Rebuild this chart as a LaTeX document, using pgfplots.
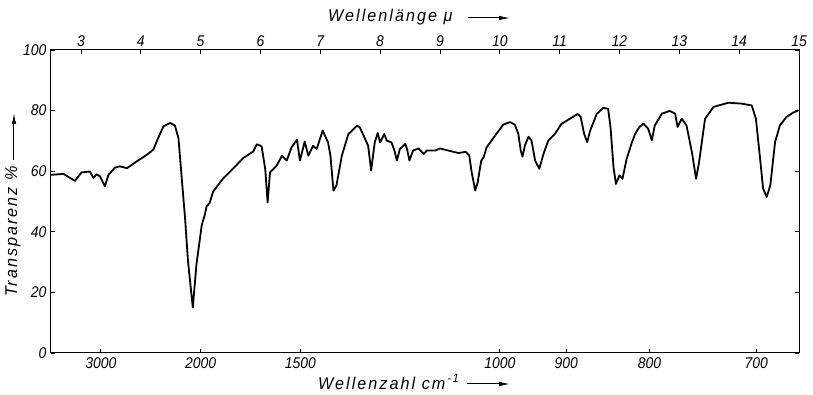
\documentclass[border=0pt]{standalone}
\usepackage{fontspec}
\setmainfont{Liberation Sans}[FakeStretch=0.9]
\newfontfamily\labelfont{Liberation Sans}[FakeStretch=0.95, LetterSpace=12]
\usepackage{pgfplots}
\pgfplotsset{compat=1.18}
\usetikzlibrary{arrows.meta}
\pgfplotstableread{
lam T
2.50 58.8
2.71 59.1
2.90 56.8
3.01 59.6
3.15 59.9
3.21 57.7
3.26 59.0
3.32 58.3
3.40 55.0
3.46 58.8
3.57 61.2
3.65 61.6
3.77 61.0
3.93 63.2
4.10 65.4
4.21 67.1
4.29 70.9
4.38 74.8
4.49 75.9
4.57 75.1
4.63 70.9
4.68 58.9
4.74 44.5
4.79 30.2
4.87 15.0
4.93 29.1
5.02 42.3
5.07 45.6
5.10 48.4
5.15 49.5
5.21 53.3
5.38 57.7
5.55 61.0
5.71 64.3
5.88 66.5
5.94 68.9
6.02 68.2
6.08 60.7
6.12 49.7
6.16 59.6
6.27 61.8
6.36 65.1
6.44 63.5
6.52 67.9
6.61 70.4
6.66 63.5
6.74 69.8
6.80 65.1
6.88 68.4
6.94 67.3
7.04 73.4
7.13 69.5
7.17 65.1
7.22 53.6
7.27 55.3
7.36 65.1
7.47 72.3
7.50 72.8
7.61 75.0
7.66 74.5
7.75 70.6
7.80 68.4
7.85 60.2
7.91 69.5
7.96 72.6
8.00 69.5
8.07 72.3
8.11 70.1
8.19 69.5
8.24 66.8
8.28 63.5
8.33 67.3
8.42 69.0
8.45 67.3
8.49 63.5
8.55 66.8
8.64 67.5
8.73 65.7
8.78 66.8
8.92 66.8
9.00 67.5
9.14 66.8
9.31 66.0
9.43 66.4
9.49 65.1
9.53 59.6
9.59 53.6
9.63 56.3
9.69 63.5
9.73 64.6
9.78 67.9
9.84 69.5
9.93 72.0
10.06 75.4
10.17 76.2
10.25 75.4
10.31 72.3
10.35 66.8
10.38 64.8
10.42 68.5
10.48 71.4
10.53 70.1
10.59 63.5
10.66 60.8
10.73 65.7
10.81 70.1
10.92 72.3
11.03 75.6
11.17 77.3
11.30 78.9
11.35 78.0
11.41 72.3
11.46 69.6
11.51 73.4
11.62 78.9
11.73 80.9
11.81 80.6
11.85 74.5
11.90 61.4
11.94 55.8
12.00 58.6
12.05 57.5
12.12 64.1
12.20 69.0
12.26 72.3
12.33 74.5
12.40 75.7
12.48 74.0
12.54 70.2
12.59 75.1
12.71 79.0
12.84 79.9
12.93 79.0
12.97 74.6
13.04 77.3
13.12 75.1
13.21 66.3
13.28 57.5
13.33 63.0
13.43 77.3
13.57 81.2
13.82 82.6
14.04 82.3
14.21 81.7
14.28 77.3
14.35 64.1
14.40 54.3
14.46 51.5
14.52 55.3
14.60 69.6
14.68 75.1
14.79 77.9
14.90 79.3
14.99 80.1
}\spectrum
\begin{document}
\begin{tikzpicture}
\pgfplotsset{
  common/.style={
    at={(0pt,0pt)}, anchor=south west,
    width=748pt, height=303pt, scale only axis,
    xmin=2.5, xmax=15, ymin=0, ymax=100,
    tick align=inside, major tick length=4pt,
    every tick/.style={black, line width=0.8pt},
    tick label style={font=\fontsize{15.5}{15.5}\selectfont\itshape},
  }
}
\begin{axis}[common,
    axis line style={line width=1pt},
    xtick={3.3333,5,6.6667,10,11.1111,12.5,14.2857},
    xticklabels={3000,2000,1500,1000,900,800,700},
    xtick pos=bottom,
    xticklabel style={yshift=-1pt},
    ytick={0,20,40,60,80,100},
    yticklabels={0,20,40,60,80,100},
    ytick pos=both, yticklabel pos=left,
    yticklabel style={xshift=-1pt},
  ]
  \addplot[black, line width=1.8pt, line join=round] table[x=lam, y=T] {\spectrum};
\end{axis}
\begin{axis}[common,
    axis x line*=top, axis y line=none,
    axis line style={line width=1pt},
    xtick={3,4,...,15},
    xticklabels={3,4,5,6,7,8,9,10,11,12,13,14,15},
    xticklabel pos=top,
    xticklabel style={yshift=0pt},
  ]
\end{axis}
\node[anchor=west, font=\fontsize{17}{17}\labelfont\itshape, inner sep=0pt] at (277pt,336pt) {Wellenlänge μ};
\draw[line width=1pt, -{Latex[length=11pt,width=4.5pt]}] (417pt,335pt) -- (459pt,335pt);
\node[anchor=west, font=\fontsize{17}{17}\labelfont\itshape, inner sep=0pt] at (267pt,-29pt) {Wellenzahl cm\textsuperscript{\,-1}};
\draw[line width=1pt, -{Latex[length=11pt,width=4.5pt]}] (416pt,-31pt) -- (459pt,-31pt);
\node[rotate=90, anchor=east, font=\fontsize{17}{17}\labelfont\itshape, inner sep=0pt] at (-38pt,187pt) {Transparenz \%};
\draw[line width=1pt, -{Latex[length=11pt,width=4.5pt]}] (-37pt,193pt) -- (-37pt,240pt);
\pgfresetboundingbox
\path[use as bounding box] (-51pt,-42pt) rectangle (762pt,353pt);
\end{tikzpicture}
\end{document}
